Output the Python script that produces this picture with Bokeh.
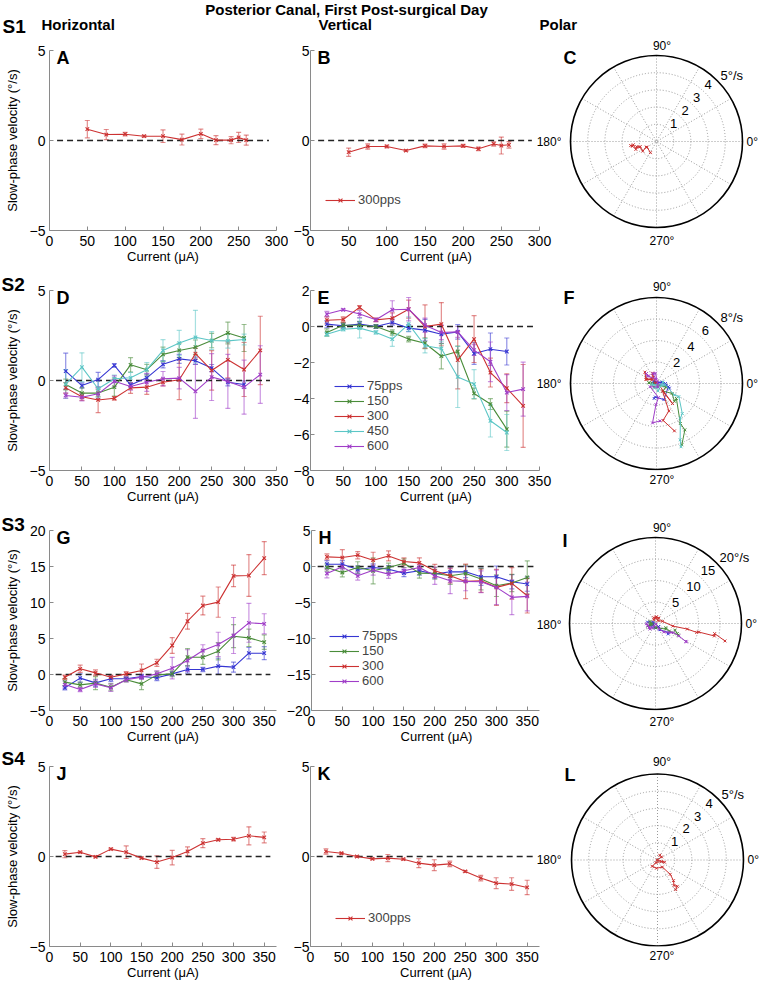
import math
from bokeh.plotting import figure
from bokeh.layouts import column, row
from bokeh.models import (Range1d, FixedTicker, Whisker, TeeHead, ColumnDataSource,
                          Legend, LegendItem, Title)
from bokeh.core.properties import value
from bokeh.embed import file_html
from bokeh.resources import INLINE

FONT = "Liberation Sans"

# ---------------------------------------------------------------- data
# S1 (300 pps only)
s1_current = [50, 75, 100, 125, 150, 175, 200, 220, 240, 250, 260]
s1_h_300 = [0.63, 0.33, 0.35, 0.24, 0.24, 0.05, 0.37, 0.02, 0.02, 0.17, 0.02]
s1_h_300_err = [0.48, 0.28, 0.10, 0.05, 0.35, 0.30, 0.26, 0.25, 0.20, 0.28, 0.28]
s1_v_300 = [-0.65, -0.33, -0.33, -0.56, -0.30, -0.33, -0.30, -0.46, -0.19, -0.28, -0.24]
s1_v_300_err = [0.23, 0.15, 0.08, 0.05, 0.10, 0.15, 0.08, 0.10, 0.12, 0.47, 0.18]
# horizontal component as drawn in the polar panel C
s1_polar_h_300 = [-0.35, -0.55, -0.6, -0.8, -0.95, -1.0, -1.15, -1.2, -1.35, -1.4, -1.5]

# S2
s2_current = [25, 50, 75, 100, 125, 150, 175, 200, 225, 250, 275, 300, 325]
s2_h_75 = [0.52, -0.28, 0.05, 0.84, -0.25, 0.15, 0.90, 1.20, 1.10, 0.69, -0.10, -0.22]
s2_h_75_err = [1.0, 0.15, 0.4, 0.1, 0.1, 0.2, 0.2, 0.25, 0.2, 0.2, 0.2, 0.2]
s2_h_150 = [-0.22, -0.70, -0.70, -0.37, 0.87, 0.60, 1.45, 1.67, 1.85, 2.22, 2.64, 2.36]
s2_h_150_err = [0.3, 0.3, 0.2, 0.5, 0.4, 0.3, 0.4, 0.4, 0.4, 0.4, 0.6, 0.75]
s2_h_300 = [-0.41, -0.90, -1.08, -0.99, -0.41, -0.37, -0.10, 0.04, 1.49, 0.56, 1.15, 0.61, 1.67]
s2_h_300_err = [0.3, 0.2, 0.7, 0.1, 0.3, 0.4, 0.2, 1.1, 0.3, 1.1, 1.0, 1.5, 1.9]
s2_h_450 = [-0.20, 0.74, -0.46, 0.10, 0.15, 0.60, 1.67, 2.08, 2.40, 2.22, 2.20, 2.28]
s2_h_450_err = [0.8, 0.8, 0.5, 0.2, 0.3, 0.4, 0.6, 0.7, 1.5, 0.5, 0.4, 0.3]
s2_h_600 = [-0.83, -0.93, -0.74, -0.04, -0.33, -0.10, 0.10, 0.13, -0.60, 0.19, -0.05, -0.37, 0.33]
s2_h_600_err = [0.15, 0.2, 0.3, 0.3, 0.2, 0.5, 0.4, 0.6, 1.5, 1.3, 1.5, 1.5, 1.6]

s2_v_75 = [0.13, 0.04, 0.13, 0.0, 0.22, -0.09, -0.20, -0.43, -0.30, -1.50, -1.26, -1.39]
s2_v_75_err = [0.2, 0.15, 0.15, 0.1, 0.15, 0.2, 0.6, 0.5, 0.4, 0.6, 0.9, 0.75]
s2_v_150 = [-0.33, 0.07, 0.07, 0.0, -0.33, -0.70, -0.93, -1.65, -1.39, -3.72, -4.31, -5.70]
s2_v_150_err = [0.2, 0.15, 0.2, 0.1, 0.15, 0.15, 0.3, 0.7, 0.3, 0.3, 0.3, 1.0]
s2_v_300 = [0.35, 0.39, 1.06, 0.37, 0.46, 0.96, 0.0, 0.13, -1.87, -0.70, -2.56, -3.43, -4.41]
s2_v_300_err = [0.2, 0.15, 0.1, 0.1, 0.3, 0.5, 1.2, 1.2, 1.6, 1.3, 0.8, 0.8, 2.3]
s2_v_450 = [-0.43, -0.15, -0.09, -0.33, -0.70, 0.13, -1.07, -1.22, -2.80, -3.20, -5.24, -5.89]
s2_v_450_err = [0.1, 0.1, 0.55, 0.1, 0.4, 0.4, 0.4, 0.4, 1.7, 0.8, 0.9, 1.0]
s2_v_600 = [0.69, 0.93, 0.69, 0.37, 0.93, 0.96, 0.07, -0.33, -0.30, -1.31, -1.96, -3.67, -3.48]
s2_v_600_err = [0.15, 0.05, 0.2, 0.1, 0.5, 0.65, 0.4, 0.4, 0.3, 0.3, 1.1, 1.0, 1.5]

# S3
s3_current = [25, 50, 75, 100, 125, 150, 175, 200, 225, 250, 275, 300, 325, 350]
s3_h_75 = [-1.85, -0.50, -1.16, -0.60, -0.60, -0.28, -0.46, 0.09, 0.70, 0.70, 1.16, 1.02, 2.96, 2.96]
s3_h_75_err = [0.3, 0.6, 0.5, 0.4, 0.3, 0.3, 0.4, 0.3, 0.5, 0.3, 1.1, 0.7, 0.8, 0.9]
s3_h_150 = [-1.06, -1.44, -1.20, -1.76, -0.74, -1.30, -0.05, 0.09, 2.40, 2.40, 3.24, 5.32, 5.09, 4.49]
s3_h_150_err = [0.5, 0.4, 0.9, 0.5, 0.3, 0.8, 0.5, 0.4, 1.2, 1.0, 1.2, 1.6, 1.2, 1.0]
s3_h_300 = [-0.37, 0.79, 0.23, -0.37, 0.09, 0.56, 1.62, 4.03, 7.40, 9.58, 10.05, 13.70, 13.75, 16.16]
s3_h_300_err = [0.3, 0.5, 0.4, 0.3, 0.3, 0.9, 0.5, 1.1, 1.1, 1.3, 2.1, 1.5, 2.9, 2.3]
s3_h_600 = [-1.40, -2.08, -1.30, -1.85, -0.74, -0.37, 0.09, 0.88, 1.94, 3.33, 4.17, 5.42, 7.18, 7.04]
s3_h_600_err = [0.5, 0.3, 0.5, 0.5, 0.3, 0.3, 0.4, 1.5, 1.5, 0.8, 1.7, 2.5, 2.7, 1.4]

s3_v_75 = [0.32, 0.32, -0.41, -0.14, -0.37, -0.92, -0.60, -1.06, -0.74, -0.74, -1.43, -1.43, -2.12, -2.44]
s3_v_75_err = [0.5, 0.5, 0.5, 0.5, 0.5, 0.5, 0.6, 0.6, 0.8, 0.8, 1.2, 1.5, 1.0, 1.0]
s3_v_150 = [-0.14, -0.83, -0.14, -0.60, -0.14, 0.46, -0.92, -0.97, -1.29, -0.97, -1.75, -2.67, -2.30, -1.52]
s3_v_150_err = [0.5, 0.6, 0.8, 1.8, 0.6, 0.6, 0.7, 0.8, 1.2, 1.2, 1.5, 1.5, 1.2, 2.3]
s3_v_300 = [1.34, 1.24, 1.57, 0.88, 1.47, 0.69, 0.51, -0.60, -1.29, -2.07, -1.98, -2.90, -2.35, -4.06]
s3_v_300_err = [0.4, 1.1, 0.5, 1.1, 0.7, 0.5, 0.7, 0.9, 1.0, 2.4, 1.6, 2.5, 2.2, 2.4]
s3_v_600 = [-0.97, -0.05, -1.29, -0.51, -1.06, -0.60, -0.14, -1.29, -1.98, -2.07, -2.12, -2.90, -4.29, -4.15]
s3_v_600_err = [0.6, 0.4, 0.6, 0.7, 0.6, 0.4, 0.4, 1.2, 1.8, 1.3, 1.5, 2.4, 2.4, 2.0]

# S4 (300 pps only)
s4_current = [25, 50, 75, 100, 125, 150, 175, 200, 225, 250, 275, 300, 325, 350]
s4_h_300 = [0.13, 0.24, -0.02, 0.41, 0.24, -0.09, -0.31, -0.06, 0.28, 0.74, 0.93, 0.96, 1.15, 1.06]
s4_h_300_err = [0.2, 0.05, 0.05, 0.05, 0.35, 0.05, 0.35, 0.4, 0.25, 0.25, 0.05, 0.1, 0.5, 0.3]
s4_v_300 = [0.28, 0.18, 0.0, -0.13, -0.09, -0.15, -0.37, -0.48, -0.41, -0.83, -1.20, -1.48, -1.53, -1.72]
s4_v_300_err = [0.15, 0.05, 0.05, 0.05, 0.2, 0.05, 0.25, 0.3, 0.15, 0.05, 0.15, 0.3, 0.35, 0.4]

COLORS = {"75": "#3636d2", "150": "#4a8c3a", "300": "#cc3232", "450": "#5cc6c6", "600": "#a03ec8"}

# ---------------------------------------------------------------- helpers
AXIS_GREY = "#8a8a8a"


def style_axis(ax):
    ax.axis_line_color = AXIS_GREY
    ax.major_tick_line_color = AXIS_GREY
    ax.major_tick_in = 4
    ax.major_tick_out = 0
    ax.minor_tick_line_color = None
    ax.major_label_text_font = FONT
    ax.major_label_text_font_size = "14px"
    ax.major_label_text_color = "black"
    ax.axis_label_text_font = FONT
    ax.axis_label_text_font_size = "13px"
    ax.axis_label_text_font_style = "normal"
    ax.axis_label_text_color = "black"


def cart_panel(width, height, borders, xmax, yr, xticks, yticks, series, letter,
               extra_right=0, ylabel=None, ylabel_standoff=7, ytick_standoff=4,
               legend_loc=None, row_title=None, title_standoff=-9, side_label=None):
    """extra_right: px of frame kept to the right of the x axis end (room for the
    neighbouring polar panel's 180 degree label)."""
    ml, mr, mt, mb = borders
    fw = width - ml - mr
    fh = height - mt - mb
    dx = xmax / (fw - extra_right)
    dy = (yr[1] - yr[0]) / fh
    p = figure(width=width, height=height, x_range=Range1d(0, xmax + extra_right * dx),
               y_range=Range1d(*yr),
               min_border_left=ml, min_border_right=mr, min_border_top=mt,
               min_border_bottom=mb, toolbar_location=None, tools="",
               output_backend="svg")
    p.grid.visible = False
    p.outline_line_color = None
    style_axis(p.xaxis[0])
    style_axis(p.yaxis[0])
    p.xaxis.bounds = (0, xmax)
    p.xaxis.ticker = FixedTicker(ticks=xticks)
    p.yaxis.ticker = FixedTicker(ticks=yticks)
    p.xaxis.major_label_standoff = 5
    p.yaxis.major_label_standoff = ytick_standoff
    p.xaxis.axis_label = "Current (\u03bcA)"
    p.xaxis.axis_label_standoff = 0
    if ylabel:
        p.yaxis.axis_label = ylabel
        p.yaxis.axis_label_standoff = ylabel_standoff

    # zero reference line
    p.segment(x0=[10], y0=[0], x1=[xmax - 10], y1=[0],
              line_color="#222222", line_width=1.4, line_dash="6 4")

    items = []
    for label, key, xs, ys, es in series:
        c = COLORS[key]
        n = len(ys)
        src = ColumnDataSource(dict(x=xs[:n], y=ys,
                                    lo=[y - e for y, e in zip(ys, es)],
                                    hi=[y + e for y, e in zip(ys, es)]))
        w = Whisker(source=src, base="x", lower="lo", upper="hi",
                    line_color=c, line_alpha=0.55, line_width=1.2,
                    upper_head=TeeHead(size=5, line_color=c, line_alpha=0.55, line_width=1.2),
                    lower_head=TeeHead(size=5, line_color=c, line_alpha=0.55, line_width=1.2))
        p.add_layout(w)
        lr = p.line("x", "y", source=src, line_color=c, line_width=1.1)
        sr = p.scatter("x", "y", source=src, marker="x", size=5, line_color=c, line_width=1.1)
        items.append(LegendItem(label=label, renderers=[lr, sr]))

    p.text(x=[7 * dx], y=[yr[1] + 3 * dy], text=[letter],
           text_font=value(FONT), text_font_size="18px", text_font_style="bold",
           text_align="left", text_baseline="top", text_color="black")

    if legend_loc is not None:
        lg = Legend(items=items, location=legend_loc, border_line_color=None,
                    background_fill_alpha=0, padding=0, margin=0, spacing=0,
                    glyph_width=30, glyph_height=14, label_height=14,
                    label_standoff=3, label_text_font=FONT, label_text_font_size="13px",
                    label_text_line_height=1.0)
        p.add_layout(lg)

    if row_title:
        p.title.text = row_title
        p.title.align = "left"
        p.title.offset = -ml + 1
        p.title.standoff = title_standoff
        p.title.text_font = FONT
        p.title.text_font_size = "19px"
        p.title.text_font_style = "bold"
        p.title.text_color = "black"

    if side_label is not None:
        # angle label of the neighbouring polar panel, drawn in this frame's spare strip
        px, py, txt = side_label
        p.text(x=[px * dx], y=[yr[1] - py * dy], text=[txt],
               text_font=value(FONT), text_font_size="12px", text_color="black",
               text_align="right", text_baseline="middle")
    return p


R_PX = 86.0


def polar_panel(width, height, mt, mb, cx, cyf, rmax, rings, unit, letter, series,
                top_standoff, bottom_standoff, letter_dy):
    """The frame is vertically aligned with the row's cartesian frames (mt, mb);
    cx/cyf: circle centre in px from the frame's left / top edge."""
    fh = height - mt - mb
    s = R_PX / rmax          # px per unit
    u = 1.0 / s              # units per px
    p = figure(width=width, height=height,
               x_range=Range1d(-cx * u, (width - cx) * u),
               y_range=Range1d(-(fh - cyf) * u, cyf * u),
               min_border_left=0, min_border_right=0, min_border_top=mt,
               min_border_bottom=mb, toolbar_location=None, tools="", output_backend="svg")
    p.axis.visible = False
    p.grid.visible = False
    p.outline_line_color = None

    angs = [k * 30 for k in range(6)]
    p.segment(x0=[-rmax * math.cos(math.radians(a)) for a in angs],
              y0=[-rmax * math.sin(math.radians(a)) for a in angs],
              x1=[rmax * math.cos(math.radians(a)) for a in angs],
              y1=[rmax * math.sin(math.radians(a)) for a in angs],
              line_color="#9a9a9a", line_width=1, line_dash="1 2")
    inner = rings[:-1]
    p.circle(x=[0] * len(inner), y=[0] * len(inner), radius=inner,
             fill_color=None, line_color="#9a9a9a", line_width=1, line_dash="1 2")
    p.circle(x=[0], y=[0], radius=[rmax], fill_color=None, line_color="black", line_width=1.6)

    # 90° above and 270° below the frame, as titles centred on the circle
    off = cx - width / 2.0
    p.title.text = "90\u00b0"
    p.title.align = "center"
    p.title.offset = off
    p.title.standoff = top_standoff
    p.title.text_font = FONT
    p.title.text_font_size = "12px"
    p.title.text_font_style = "normal"
    p.title.text_color = "black"
    p.add_layout(Title(text="270\u00b0", align="center", offset=off, standoff=bottom_standoff,
                       text_font=FONT, text_font_size="12px", text_font_style="normal",
                       text_color="black"), "below")

    lab = dict(text_font=value(FONT), text_font_size="12px", text_color="black")
    p.text(x=[(R_PX + 4) * u], y=[0], text=["0\u00b0"], text_align="left",
           text_baseline="middle", **lab)

    rl = dict(text_font=value(FONT), text_font_size="13px", text_color="black",
              text_align="left", text_baseline="middle")
    c48, s48 = math.cos(math.radians(48)), math.sin(math.radians(48))
    xs, ys, ts = [], [], []
    for r in inner:
        d = r * s + 6
        xs.append((d * c48 - 2) * u)
        ys.append((d * s48 + 1) * u)
        ts.append(f"{r:g}")
    p.text(x=xs, y=ys, text=ts, **rl)
    p.text(x=[64 * u], y=[66 * u], text=[f"{rmax:g}{unit}"], **rl)

    p.text(x=[-93 * u], y=[(cyf + 3 - letter_dy) * u], text=[letter], text_font=value(FONT),
           text_font_size="18px", text_font_style="bold", text_align="left",
           text_baseline="top", text_color="black")

    for key, hx, vy in series:
        c = COLORS[key]
        src = ColumnDataSource(dict(x=hx, y=vy))
        p.line("x", "y", source=src, line_color=c, line_width=1)
        p.scatter("x", "y", source=src, marker="x", size=4, line_color=c, line_width=1)
    return p


# ---------------------------------------------------------------- layout
W_TOTAL = 762
SPLIT_R = 561                 # x where polar column starts
PW = W_TOTAL - SPLIT_R        # polar column width
MID_AXIS_END = 539            # right end of the middle x axes
EXTRA = SPLIT_R - MID_AXIS_END
YLAB = "Slow-phase velocity (\u00b0/s)"
X_180 = 561 - 310             # "180°" right edge, relative to middle frame left

# header
HH = 38
hdr = figure(width=W_TOTAL, height=HH, x_range=Range1d(0, W_TOTAL), y_range=Range1d(HH, 0),
             min_border=0, toolbar_location=None, tools="", output_backend="svg")
hdr.axis.visible = False
hdr.grid.visible = False
hdr.outline_line_color = None
hdr.text(x=[346], y=[0], text=["Posterior Canal, First Post-surgical Day"],
         text_font=value(FONT), text_font_size="15px", text_font_style="bold",
         text_align="center", text_baseline="top")
hdr.text(x=[2], y=[15.5], text=["S1"], text_font=value(FONT), text_font_size="19px",
         text_font_style="bold", text_align="left", text_baseline="top")
hdr.text(x=[41, 318, 539], y=[15.5, 15.5, 15.5], text=["Horizontal", "Vertical", "Polar"],
         text_font=value(FONT), text_font_size="15px", text_font_style="bold",
         text_align="left", text_baseline="top")

X_TICKS_300 = [0, 50, 100, 150, 200, 250, 300]
X_TICKS_350 = [0, 50, 100, 150, 200, 250, 300, 350]

# row 1 : S1
RH1 = 228
a = cart_panel(288, RH1, (49, 12, 12, 36), 300, (-5, 5), X_TICKS_300, [-5, 0, 5],
               [("300pps", "300", s1_current, s1_h_300, s1_h_300_err)], "A", ylabel=YLAB)
b = cart_panel(SPLIT_R - 288, RH1, (22, 0, 12, 36), 300, (-5, 5),
               X_TICKS_300, [-5, 0, 5],
               [("300pps", "300", s1_current, s1_v_300, s1_v_300_err)], "B",
               extra_right=EXTRA, ytick_standoff=1, legend_loc=(15, 23),
               side_label=(X_180, 91, "180\u00b0"))
c = polar_panel(PW, RH1, 12, 36, 95, 91, 5, [1, 2, 3, 4, 5], "\u00b0/s", "C",
                [("300", s1_polar_h_300, s1_v_300)],
                top_standoff=-4, bottom_standoff=2, letter_dy=0)

# row 2 : S2
RH2 = 240
s2_h = [("75pps", "75", s2_current, s2_h_75, s2_h_75_err),
        ("150", "150", s2_current, s2_h_150, s2_h_150_err),
        ("300", "300", s2_current, s2_h_300, s2_h_300_err),
        ("450", "450", s2_current, s2_h_450, s2_h_450_err),
        ("600", "600", s2_current, s2_h_600, s2_h_600_err)]
s2_v = [("75pps", "75", s2_current, s2_v_75, s2_v_75_err),
        ("150", "150", s2_current, s2_v_150, s2_v_150_err),
        ("300", "300", s2_current, s2_v_300, s2_v_300_err),
        ("450", "450", s2_current, s2_v_450, s2_v_450_err),
        ("600", "600", s2_current, s2_v_600, s2_v_600_err)]
d = cart_panel(288, RH2, (49, 12, 24, 36), 350, (-5, 5), X_TICKS_350, [-5, 0, 5],
               s2_h, "D", ylabel=YLAB, row_title="S2", title_standoff=-9)
e = cart_panel(SPLIT_R - 288, RH2, (22, 0, 24, 36), 350, (-8, 2),
               X_TICKS_350, [-8, -6, -4, -2, 0, 2], s2_v, "E",
               extra_right=EXTRA, ytick_standoff=1, legend_loc=(24, 17),
               side_label=(X_180, 93, "180\u00b0"))
f = polar_panel(PW, RH2, 24, 36, 95, 93, 8, [2, 4, 6, 8], "\u00b0/s", "F",
                [("75", s2_h_75, s2_v_75), ("150", s2_h_150, s2_v_150),
                 ("300", s2_h_300, s2_v_300), ("450", s2_h_450, s2_v_450),
                 ("600", s2_h_600, s2_v_600)],
                top_standoff=-7, bottom_standoff=0, letter_dy=0)

# row 3 : S3
RH3 = 240
s3_h = [("75pps", "75", s3_current, s3_h_75, s3_h_75_err),
        ("150", "150", s3_current, s3_h_150, s3_h_150_err),
        ("300", "300", s3_current, s3_h_300, s3_h_300_err),
        ("600", "600", s3_current, s3_h_600, s3_h_600_err)]
s3_v = [("75pps", "75", s3_current, s3_v_75, s3_v_75_err),
        ("150", "150", s3_current, s3_v_150, s3_v_150_err),
        ("300", "300", s3_current, s3_v_300, s3_v_300_err),
        ("600", "600", s3_current, s3_v_600, s3_v_600_err)]
g = cart_panel(283, RH3, (49, 7, 24, 36), 370, (-5, 20), X_TICKS_350,
               [-5, 0, 5, 10, 15, 20], s3_h, "G", ylabel=YLAB, row_title="S3",
               title_standoff=-9)
h = cart_panel(SPLIT_R - 283, RH3, (27, 0, 24, 36), 370, (-20, 5),
               X_TICKS_350, [-20, -15, -10, -5, 0, 5], s3_v, "H",
               extra_right=EXTRA, ytick_standoff=1, legend_loc=(18, 22),
               side_label=(X_180, 94, "180\u00b0"))
i_ = polar_panel(PW, RH3, 24, 36, 94, 93, 20, [5, 10, 15, 20], "\u00b0/s", "I",
                 [("75", s3_h_75, s3_v_75), ("150", s3_h_150, s3_v_150),
                  ("300", s3_h_300, s3_v_300), ("600", s3_h_600, s3_v_600)],
                 top_standoff=-8, bottom_standoff=4, letter_dy=3)

# row 4 : S4
RH4 = 238
j = cart_panel(288, RH4, (49, 12, 20, 38), 370, (-5, 5), X_TICKS_350, [-5, 0, 5],
               [("300pps", "300", s4_current, s4_h_300, s4_h_300_err)], "J",
               ylabel=YLAB, row_title="S4", title_standoff=-4)
k = cart_panel(SPLIT_R - 288, RH4, (22, 0, 20, 38), 370, (-5, 5),
               X_TICKS_350, [-5, 0, 5],
               [("300pps", "300", s4_current, s4_v_300, s4_v_300_err)], "K",
               extra_right=EXTRA, ytick_standoff=1, legend_loc=(25, 21),
               side_label=(X_180, 93.5, "180\u00b0"))
l_ = polar_panel(PW, RH4, 20, 38, 96, 93.5, 5, [1, 2, 3, 4, 5], "\u00b0/s", "L",
                 [("300", s4_h_300, s4_v_300)],
                 top_standoff=-5, bottom_standoff=1, letter_dy=1)

layout = column(hdr, row(a, b, c), row(d, e, f), row(g, h, i_), row(j, k, l_))

open("out.html", "w").write(file_html(layout, INLINE))
